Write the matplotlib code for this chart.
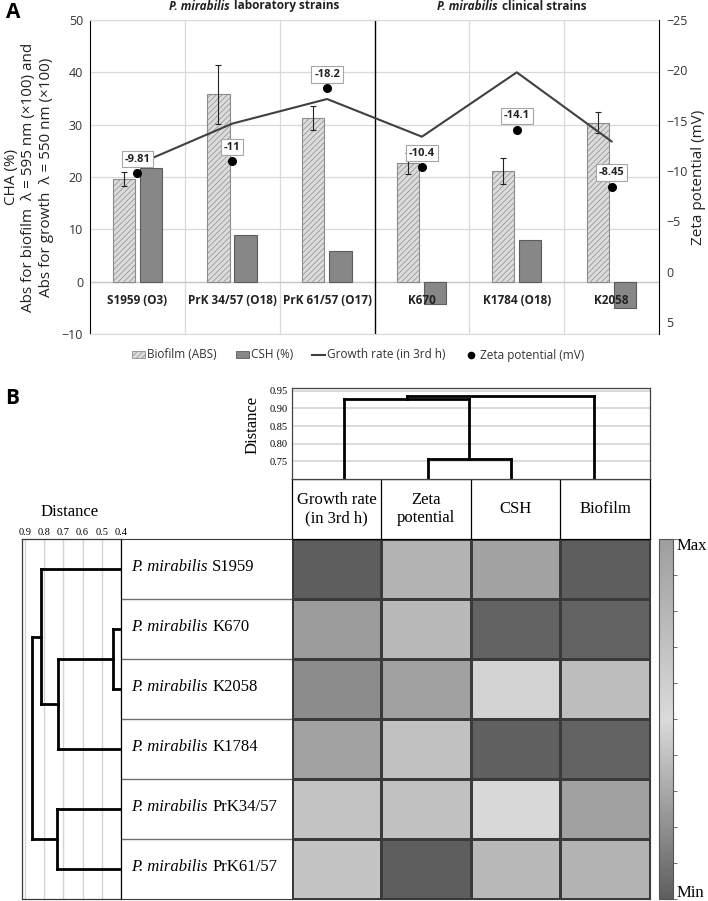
import numpy as np
import matplotlib
matplotlib.use("Agg")
import matplotlib.pyplot as plt
from matplotlib.patches import Patch
from matplotlib.lines import Line2D
from matplotlib.colors import LinearSegmentedColormap, Normalize
import matplotlib.cm as cm

# ---------------- Panel A data ----------------
strains = ["S1959 (O3)", "PrK 34/57 (O18)", "PrK 61/57 (O17)", "K670", "K1784 (O18)", "K2058"]
biofilm = [19.6, 35.8, 31.2, 22.6, 21.2, 30.4]
biofilm_err = [1.4, 5.6, 2.3, 2.0, 2.5, 2.0]
csh = [21.8, 8.9, 5.8, -4.2, 7.9, -5.1]
growth = [22.4, 30.2, 34.9, 27.7, 40.0, 26.8]
zeta = [-9.81, -11.0, -18.2, -10.4, -14.1, -8.45]
species = "P. mirabilis"
group_titles = ["laboratory strains", "clinical strains"]
legend_labels = ["Biofilm (ABS)", "CSH (%)", "Growth rate (in 3rd h)", "Zeta potential (mV)"]

# ---------------- Panel B data ----------------
heat_rows = ["S1959", "K670", "K2058", "K1784", "PrK34/57", "PrK61/57"]
heat_cols = ["Growth rate\n(in 3rd h)", "Zeta\npotential", "CSH", "Biofilm"]
# relative level (0 = Min ... 1 = Max) read from the grey shades
heat_values = [
    [0.00, 0.825, 0.965, 0.00],
    [0.25, 0.775, 0.02, 0.02],
    [0.185, 0.975, 0.47, 0.74],
    [0.965, 0.40, 0.015, 0.02],
    [0.41, 0.71, 0.49, 0.975],
    [0.68, 0.00, 0.37, 0.825],
]
# linkage: (node a, node b, distance); new nodes numbered from n_leaves
col_linkage = [(1, 2, 0.757), (0, 4, 0.927), (5, 3, 0.936)]
row_linkage = [(1, 2, 0.44), (6, 3, 0.727), (0, 7, 0.818), (4, 5, 0.732), (8, 9, 0.865)]
col_ticks = [0.75, 0.80, 0.85, 0.90, 0.95]
row_ticks = [0.9, 0.8, 0.7, 0.6, 0.5, 0.4]

# ---------------- figure ----------------
W, H = 708, 901
fig = plt.figure(figsize=(W / 100, H / 100), dpi=100)
plt.rcParams["hatch.linewidth"] = 0.5
SANS = "Open Sans"
SERIF = "Liberation Serif"


def add_ax(x0, y0, x1, y1, **kw):
    return fig.add_axes([x0 / W, 1 - y1 / H, (x1 - x0) / W, (y1 - y0) / H], **kw)


# ================= Panel A =================
ax = add_ax(90, 20, 659, 334)
ax2 = ax.twinx()
x = np.arange(len(strains))
bw = 0.235
ax.bar(x - 0.145, biofilm, bw, facecolor="#dcdcdc", edgecolor="#8c8c8c",
       hatch="//////", linewidth=0.8, zorder=3)
ax.errorbar(x - 0.145, biofilm, yerr=biofilm_err, fmt="none", ecolor="#222222",
            elinewidth=0.8, capsize=2, capthick=0.8, zorder=4)
ax.bar(x + 0.14, csh, bw, facecolor="#878787", edgecolor="#5c5c5c",
       linewidth=0.8, zorder=3)
ax.plot(x, growth, color="#404040", lw=1.5, zorder=5)

ax.set_xlim(-0.5, len(strains) - 0.5)
ax.set_ylim(-10, 50)
ax.set_yticks(range(-10, 51, 10))
ax.set_xticks([])
ax.yaxis.grid(True, color="#d9d9d9", lw=0.9, zorder=0)
ax.set_axisbelow(True)
for b in [0.5, 1.5, 3.5, 4.5]:
    ax.axvline(b, color="#d9d9d9", lw=0.9, zorder=0)
ax.axvline(2.5, color="black", lw=1.0, zorder=2)
ax.axhline(0, color="#c8c8c8", lw=1.0, zorder=1)
for s in ["top", "bottom"]:
    ax.spines[s].set_color("#d9d9d9")
ax.spines["left"].set_color("black")
ax.spines["right"].set_visible(False)
ax.tick_params(axis="y", length=0, pad=5, labelsize=9, labelcolor="#333333")
for lbl in ax.get_yticklabels():
    lbl.set_fontfamily(SANS)

for i, s in enumerate(strains):
    ax.annotate(s, xy=(i, 0), xytext=(0, -9), textcoords="offset points",
                ha="center", va="top", fontsize=8.5, fontweight="bold",
                family=SANS, color="#222222", zorder=6)

ax2.plot(x, zeta, "o", color="black", ms=5.5, zorder=6)
ax2.set_ylim(6.19, -25)
ax2.set_yticks(range(-25, 6, 5))
ax2.tick_params(axis="y", length=0, pad=5, labelsize=9, labelcolor="#333333")
for lbl in ax2.get_yticklabels():
    lbl.set_fontfamily(SANS)
for s in ["top", "bottom", "left"]:
    ax2.spines[s].set_visible(False)
ax2.spines["right"].set_color("black")
for i, z in enumerate(zeta):
    ax2.annotate(f"{z:.3g}", xy=(i, z), xytext=(0, 10), textcoords="offset points",
                 ha="center", va="center", fontsize=8, fontweight="bold", family=SANS,
                 color="#222222",
                 bbox=dict(boxstyle="square,pad=0.25", fc="white", ec="#a6a6a6", lw=0.8),
                 zorder=7)

# group titles (italic species + bold text)
for split_x, title in zip([0.976, 3.80], group_titles):
    t1 = ax.text(split_x, 1.0, species, transform=ax.get_xaxis_transform(),
                 ha="right", va="center", fontsize=8.5, fontweight="bold",
                 style="italic", family=SANS, color="#222222")
    t1.set_y(1 + (-6 + 20) / 314)
    ax.annotate(title, xy=(1, 0.5), xycoords=t1, xytext=(3, 0), textcoords="offset points",
                ha="left", va="center", fontsize=8.5, fontweight="bold", family=SANS,
                color="#222222")

fig.text(29 / W, 1 - 177 / H,
         "CHA (%)\nAbs for biofilm  \u03bb = 595 nm (\u00d7100) and\nAbs for growth  \u03bb = 550 nm (\u00d7100)",
         rotation=90, ha="center", va="center", multialignment="center",
         fontsize=11, family=SANS, color="#222222", linespacing=1.25)
fig.text(699 / W, 1 - 177 / H, "Zeta potential (mV)", rotation=90, ha="center",
         va="center", fontsize=11, family=SANS, color="#222222")
fig.text(6 / W, 1 - 2 / H, "A", fontsize=15, fontweight="bold", family=SANS,
         ha="left", va="top")

handles = [Patch(facecolor="#dcdcdc", edgecolor="#8c8c8c", hatch="//////", lw=0.6),
           Patch(facecolor="#878787", edgecolor="#5c5c5c", lw=0.6),
           Line2D([], [], color="#404040", lw=1.5),
           Line2D([], [], marker="o", ls="none", color="black", ms=4.5)]
fig.legend(handles, legend_labels, loc="center", bbox_to_anchor=(358 / W, 1 - 355 / H),
           ncol=4, frameon=False, prop={"family": SANS, "size": 8.5},
           handlelength=1.1, handleheight=0.6, handletextpad=0.2, columnspacing=1.6,
           labelcolor="#333333")

# ================= Panel B =================
fig.text(5 / W, 1 - 388 / H, "B", fontsize=15, fontweight="bold", family=SANS,
         ha="left", va="top")

cmap = LinearSegmentedColormap.from_list("grey_div", [(0, "#5e5e5e"), (0.5, "#dadada"), (1, "#9e9e9e")])


def draw_dendro(axd, linkage, n, base, vertical_leaves, leaf_pos):
    pos = {i: leaf_pos[i] for i in range(n)}
    hgt = {i: base for i in range(n)}
    for k, (a, b, d) in enumerate(linkage):
        node = n + k
        for c in (a, b):
            if vertical_leaves:
                axd.plot([pos[c], pos[c]], [hgt[c], d], color="black", lw=2, solid_capstyle="projecting")
            else:
                axd.plot([hgt[c], d], [pos[c], pos[c]], color="black", lw=2, solid_capstyle="projecting")
        if vertical_leaves:
            axd.plot([pos[a], pos[b]], [d, d], color="black", lw=2, solid_capstyle="projecting")
        else:
            axd.plot([d, d], [pos[a], pos[b]], color="black", lw=2, solid_capstyle="projecting")
        pos[node] = (pos[a] + pos[b]) / 2
        hgt[node] = d


# heatmap
axh = add_ax(291.7, 539.3, 650, 899)
axh.pcolormesh(np.arange(len(heat_cols) + 1), np.arange(len(heat_rows) + 1),
               np.array(heat_values), cmap=cmap, vmin=0, vmax=1,
               edgecolors="#3a3a3a", linewidth=0.8)
axh.set_xlim(0, len(heat_cols))
axh.set_ylim(len(heat_rows), 0)
axh.set_xticks([]); axh.set_yticks([])
for s in axh.spines.values():
    s.set_color("#3a3a3a")

# header
axc = add_ax(291.7, 479, 650, 539.3)
axc.set_xlim(0, len(heat_cols)); axc.set_ylim(0, 1)
axc.set_xticks([]); axc.set_yticks([])
for j, c in enumerate(heat_cols):
    axc.text(j + 0.5, 0.5, c, ha="center", va="center", family=SERIF, fontsize=12,
             linespacing=1.15)
    if j > 0:
        axc.axvline(j, color="black", lw=0.9)
for s in axc.spines.values():
    s.set_color("black"); s.set_linewidth(0.9)

# top dendrogram
axt = add_ax(291.7, 388.3, 650, 479)
axt.set_xlim(-0.63, 3.67)
axt.set_ylim(0.70, 0.957)
axt.set_yticks(col_ticks)
axt.set_yticklabels([f"{t:.2f}" for t in col_ticks], family=SERIF, fontsize=7.5)
axt.tick_params(axis="y", length=0, pad=3)
axt.set_xticks([])
axt.yaxis.grid(True, color="#d4d4d4", lw=1.2)
axt.set_axisbelow(True)
for s in axt.spines.values():
    s.set_color("#444444"); s.set_linewidth(0.9)
draw_dendro(axt, col_linkage, len(heat_cols), 0.70, True, list(range(len(heat_cols))))
fig.text(253 / W, 1 - 425 / H, "Distance", rotation=90, ha="center", va="center",
         family=SERIF, fontsize=12)

# row labels
axl = add_ax(121, 539.3, 291.7, 899)
axl.set_xlim(0, 1); axl.set_ylim(len(heat_rows), 0)
axl.set_xticks([]); axl.set_yticks([])
for r in range(1, len(heat_rows)):
    axl.axhline(r, color="#707070", lw=1.0)
for s in ["left", "right"]:
    axl.spines[s].set_visible(False)
for s in ["top", "bottom"]:
    axl.spines[s].set_color("#3a3a3a")
for r, name in enumerate(heat_rows):
    t1 = axl.text(10 / 170.7, r + 0.47, species, ha="left", va="center",
                  family=SERIF, style="italic", fontsize=12)
    axl.annotate(name, xy=(1, 0.5), xycoords=t1, xytext=(3.5, 0), textcoords="offset points",
                 ha="left", va="center", family=SERIF, fontsize=12)

# left dendrogram
axd = add_ax(22.3, 539.3, 121, 899)
axd.set_xlim(0.914, 0.4)
axd.set_ylim(len(heat_rows), 0)
axd.set_yticks([])
axd.xaxis.tick_top()
axd.set_xticks(row_ticks)
axd.set_xticklabels([f"{t:.1f}" for t in row_ticks], family=SERIF, fontsize=7.5)
axd.tick_params(axis="x", length=0, pad=2)
axd.xaxis.grid(True, color="#d4d4d4", lw=1.0)
axd.set_axisbelow(True)
for s in axd.spines.values():
    s.set_color("#3a3a3a"); s.set_linewidth(0.9)
axd.spines["right"].set_color("black")
draw_dendro(axd, row_linkage, len(heat_rows), 0.4, False,
            [r + 0.5 for r in range(len(heat_rows))])
fig.text(70 / W, 1 - 512 / H, "Distance", ha="center", va="center", family=SERIF, fontsize=12)

# colour bar
cax = add_ax(659.3, 539.3, 672.7, 899)
sm = cm.ScalarMappable(norm=Normalize(0, 1), cmap=cmap)
cb = fig.colorbar(sm, cax=cax)
cb.set_ticks(np.linspace(0, 1, 11))
cb.set_ticklabels([""] * 11)
cax.tick_params(axis="y", length=3, width=0.6, colors="#555555")
cb.outline.set_edgecolor("#555555")
cb.outline.set_linewidth(0.8)
fig.text(677 / W, 1 - 546 / H, "Max", ha="left", va="center", family=SERIF, fontsize=12)
fig.text(677 / W, 1 - 893 / H, "Min", ha="left", va="center", family=SERIF, fontsize=12)

fig.savefig("out.png", dpi=100)
